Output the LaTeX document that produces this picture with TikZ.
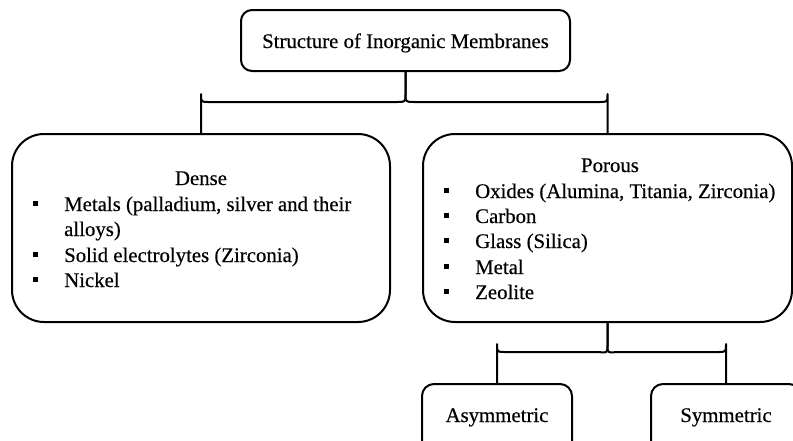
\documentclass[tikz,border=0pt]{standalone}
\usepackage{fontspec}
\setmainfont{Liberation Serif}[FakeBold=0.4]
\begin{document}
\begin{tikzpicture}[x=1pt,y=-1pt,
  box/.style={draw=black,line width=2pt,fill=white,inner sep=0pt},
  txt/.style={inner sep=0pt,font=\fontsize{20.8}{25}\selectfont},
  bul/.style={fill=black,inner sep=0pt,minimum size=5pt},
  conn/.style={line width=2pt,line join=round}]
\useasboundingbox (0,0) rectangle (793,440);
\clip (0,0) rectangle (793,440);
% boxes
\node[box,rounded corners=11pt,minimum width=329pt,minimum height=61pt] (top) at (405.5,40.5) {};
\node[box,rounded corners=32pt,minimum width=378pt,minimum height=188pt] (dense) at (201,228) {};
\node[box,rounded corners=32pt,minimum width=369pt,minimum height=188pt] (porous) at (607.5,228) {};
\node[box,rounded corners=12pt,minimum width=150pt,minimum height=90pt] (asym) at (497,429) {};
\node[box,rounded corners=12pt,minimum width=150pt,minimum height=90pt] (sym) at (726,429) {};
% texts
\node[txt,anchor=base] (ttop) at (405.5,48) {Structure of Inorganic Membranes};
\node[txt,anchor=base] (tdense) at (201,185) {Dense};
\node[txt,anchor=base west] (d1) at (64,211) {Metals (palladium, silver and their};
\node[txt,anchor=base west] (d1b) at (64,236) {alloys)};
\node[txt,anchor=base west] (d2) at (64,262) {Solid electrolytes (Zirconia)};
\node[txt,anchor=base west] (d3) at (64,287) {Nickel};
\node[bul] (bd1) at (35.5,203) {};
\node[bul] (bd2) at (35.5,254) {};
\node[bul] (bd3) at (35.5,279) {};
\node[txt,anchor=base] (tporous) at (610,172) {Porous};
\node[txt,anchor=base west] (p1) at (475,198) {Oxides (Alumina, Titania, Zirconia)};
\node[txt,anchor=base west] (p2) at (475,223) {Carbon};
\node[txt,anchor=base west] (p3) at (475,248) {Glass (Silica)};
\node[txt,anchor=base west] (p4) at (475,274) {Metal};
\node[txt,anchor=base west] (p5) at (475,299) {Zeolite};
\node[bul] (bp1) at (446.5,190) {};
\node[bul] (bp2) at (446.5,215) {};
\node[bul] (bp3) at (446.5,240) {};
\node[bul] (bp4) at (446.5,266) {};
\node[bul] (bp5) at (446.5,291) {};
\node[txt,anchor=base] (tasym) at (497,422) {Asymmetric};
\node[txt,anchor=base] (tsym) at (726,422) {Symmetric};
% braces
\coordinate (b1) at (top.south |- 0,102);
\draw[conn] (top.south) -- ++(0,22) .. controls ++(0,8) .. ([xshift=-9pt]b1)
  -- ([xshift=8pt]dense.north |- b1) .. controls (dense.north |- b1) .. ([yshift=8pt]dense.north |- b1) -- (dense.north);
\draw[conn] (top.south) -- ++(0,22) .. controls ++(0,8) .. ([xshift=9pt]b1)
  -- ([xshift=-8pt]porous.north |- b1) .. controls (porous.north |- b1) .. ([yshift=8pt]porous.north |- b1) -- (porous.north);
\coordinate (b2) at (porous.south |- 0,352);
\draw[conn] (porous.south) -- ++(0,22) .. controls ++(0,8) .. ([xshift=-9pt]b2)
  -- ([xshift=8pt]asym.north |- b2) .. controls (asym.north |- b2) .. ([yshift=8pt]asym.north |- b2) -- (asym.north);
\draw[conn] (porous.south) -- ++(0,22) .. controls ++(0,8) .. ([xshift=9pt]b2)
  -- ([xshift=-8pt]sym.north |- b2) .. controls (sym.north |- b2) .. ([yshift=8pt]sym.north |- b2) -- (sym.north);
\end{tikzpicture}
\end{document}
